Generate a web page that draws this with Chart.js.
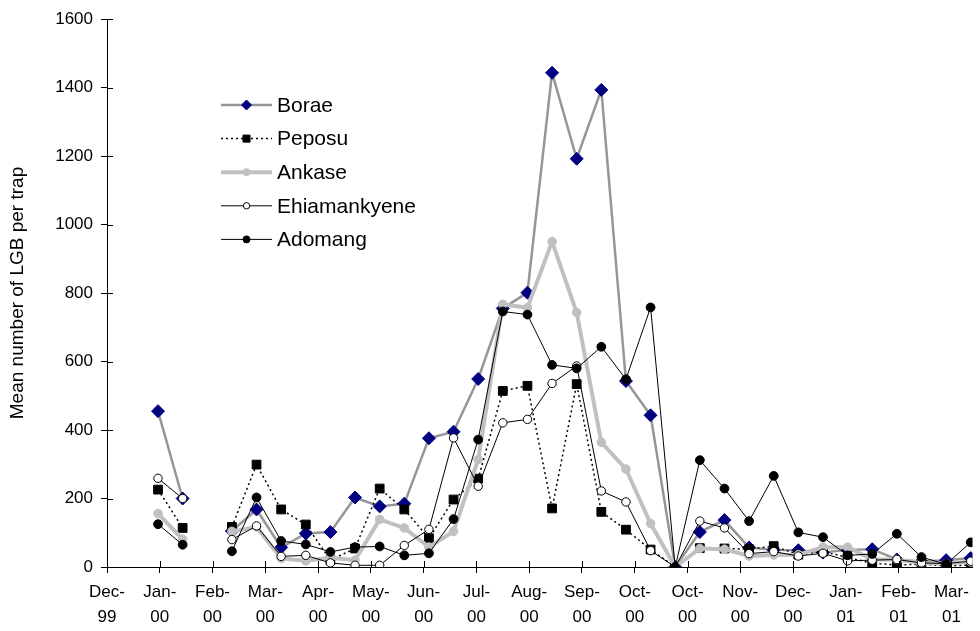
<!DOCTYPE html>
<html>
<head>
<meta charset="utf-8">
<script src="https://cdn.jsdelivr.net/npm/chart.js@4/dist/chart.umd.min.js"></script>
<style>
  html, body { margin: 0; padding: 0; background: #ffffff; }
  #wrap { width: 980px; height: 631px; }
</style>
</head>
<body>
<div id="wrap"><canvas id="c" width="980" height="631"></canvas></div>
<script>
// Fortnightly trap sampling dates
const sampleDates = [
  '2000-01-04','2000-01-18','2000-02-01','2000-02-15','2000-02-29','2000-03-14',
  '2000-03-28','2000-04-11','2000-04-25','2000-05-09','2000-05-23','2000-06-06',
  '2000-06-20','2000-07-04','2000-07-18','2000-08-01','2000-08-15','2000-08-29',
  '2000-09-12','2000-09-26','2000-10-10','2000-10-24','2000-11-07','2000-11-21',
  '2000-12-05','2000-12-19','2001-01-02','2001-01-16','2001-01-30','2001-02-13',
  '2001-02-27','2001-03-13','2001-03-27','2001-04-10'
];

// Mean number of LGB per trap at each site (null = no sample)
const borae = [455,200,null,105,168,57,98,102,203,177,185,376,395,549,755,801,1443,1192,1393,543,443,0,102,137,57,50,49,42,50,52,22,16,20,26];
const peposu = [226,114,null,117,299,168,124,20,54,229,168,84,197,258,514,529,171,534,161,109,51,0,55,54,52,61,36,45,28,11,6,8,3,6];
const ankase = [156,81,null,104,117,25,18,27,20,139,114,58,104,314,767,757,950,743,364,286,127,0,54,52,32,35,36,58,58,22,22,12,10,15];
const ehiamankyene = [259,200,null,80,120,31,34,12,5,5,63,110,377,236,421,431,536,587,222,190,48,0,134,114,39,45,32,40,18,20,22,12,10,17];
const adomang = [125,65,null,46,203,76,66,44,58,60,34,40,140,372,746,737,590,580,643,548,758,0,312,229,134,266,101,87,34,38,97,29,8,72];

// Date-axis tick labels (one tick every 30 days from the axis start)
const tickLabels = [
  ['Dec-','99'],['Jan-','00'],['Feb-','00'],['Mar-','00'],['Apr-','00'],['May-','00'],
  ['Jun-','00'],['Jul-','00'],['Aug-','00'],['Sep-','00'],['Oct-','00'],['Oct-','00'],
  ['Nov-','00'],['Dec-','00'],['Jan-','01'],['Feb-','01'],['Mar-','01']
];
const axisStart = '1999-12-06';
const axisEnd = '2001-04-11';
const tickStepDays = 30;

const seriesNames = ['Borae','Peposu','Ankase','Ehiamankyene','Adomang'];

const DAY = 86400000;
const dayOf = s => (Date.parse(s + 'T00:00:00Z') - Date.parse(axisStart + 'T00:00:00Z')) / DAY;
const toPoints = vals => vals.map((v, i) => ({ x: dayOf(sampleDates[i]), y: v }));

const FONT = "'Liberation Sans', Arial, Helvetica, sans-serif";

const datasets = [
  { label: seriesNames[0], data: toPoints(borae), borderColor: '#969696', borderWidth: 2.5,
    pointStyle: 'rectRot', pointRadius: 6.5, pointBackgroundColor: '#000080', pointBorderColor: '#000080',
    pointBorderWidth: 1, order: 4, legendRadius: 5 },
  { label: seriesNames[1], data: toPoints(peposu), borderColor: '#000000', borderWidth: 1.5, borderDash: [2, 3],
    pointStyle: 'rect', pointRadius: 6.2, pointBackgroundColor: '#000000', pointBorderColor: '#000000',
    pointBorderWidth: 1, order: 3, legendRadius: 5 },
  { label: seriesNames[2], data: toPoints(ankase), borderColor: '#c0c0c0', borderWidth: 4,
    pointStyle: 'circle', pointRadius: 4.3, pointBackgroundColor: '#c0c0c0', pointBorderColor: '#c0c0c0',
    pointBorderWidth: 1, order: 2, legendRadius: 3.5 },
  { label: seriesNames[3], data: toPoints(ehiamankyene), borderColor: '#000000', borderWidth: 1,
    pointStyle: 'circle', pointRadius: 4.2, pointBackgroundColor: '#ffffff', pointBorderColor: '#000000',
    pointBorderWidth: 1, order: 1, legendRadius: 3.2 },
  { label: seriesNames[4], data: toPoints(adomang), borderColor: '#000000', borderWidth: 1,
    pointStyle: 'circle', pointRadius: 4.4, pointBackgroundColor: '#000000', pointBorderColor: '#000000',
    pointBorderWidth: 1, order: 0, legendRadius: 3.5 }
];
datasets.forEach(d => { d.tension = 0; d.spanGaps = false; d.pointHoverRadius = d.pointRadius; });

function drawMarker(ctx, style, x, y, r, fill, stroke) {
  ctx.save();
  ctx.fillStyle = fill;
  ctx.strokeStyle = stroke;
  ctx.lineWidth = 1;
  ctx.setLineDash([]);
  ctx.beginPath();
  if (style === 'rectRot') {
    ctx.moveTo(x, y - r); ctx.lineTo(x + r, y); ctx.lineTo(x, y + r); ctx.lineTo(x - r, y); ctx.closePath();
  } else if (style === 'rect') {
    const h = r * Math.SQRT1_2;
    ctx.rect(x - h, y - h, 2 * h, 2 * h);
  } else {
    ctx.arc(x, y, r, 0, Math.PI * 2);
  }
  ctx.fill();
  ctx.stroke();
  ctx.restore();
}

// Legend drawn inside the plot area, in series order
const insideLegend = {
  id: 'insideLegend',
  afterDraw(chart) {
    const ctx = chart.ctx;
    const x0 = 221, x1 = 272, tx = 277, y0 = 105, step = 33.6;
    chart.data.datasets.forEach((d, i) => {
      const y = y0 + i * step;
      ctx.save();
      ctx.strokeStyle = d.borderColor;
      ctx.lineWidth = d.borderWidth;
      ctx.setLineDash(d.borderDash || []);
      ctx.beginPath();
      ctx.moveTo(x0, y); ctx.lineTo(x1, y);
      ctx.stroke();
      ctx.restore();
      drawMarker(ctx, d.pointStyle, (x0 + x1) / 2, y, d.legendRadius, d.pointBackgroundColor, d.pointBorderColor);
      ctx.save();
      ctx.fillStyle = '#000';
      ctx.font = '21px ' + FONT;
      ctx.textBaseline = 'middle';
      ctx.textAlign = 'left';
      ctx.fillText(d.label, tx, y + 1);
      ctx.restore();
    });
  }
};

// Tick marks that cross the axis lines (inner half)
const crossTicks = {
  id: 'crossTicks',
  afterDraw(chart) {
    const ctx = chart.ctx;
    const { left, bottom } = chart.chartArea;
    const xs = chart.scales.x, ys = chart.scales.y;
    ctx.save();
    ctx.strokeStyle = '#000';
    ctx.lineWidth = 1;
    ctx.beginPath();
    xs.ticks.forEach(t => {
      const px = Math.round(xs.getPixelForValue(t.value)) + 0.5;
      ctx.moveTo(px, bottom); ctx.lineTo(px, bottom - 6);
    });
    ys.ticks.forEach(t => {
      const py = Math.round(ys.getPixelForValue(t.value)) + 0.5;
      ctx.moveTo(left, py); ctx.lineTo(left + 6, py);
    });
    ctx.stroke();
    ctx.restore();
  }
};

new Chart(document.getElementById('c'), {
  type: 'line',
  data: { datasets },
  options: {
    responsive: false,
    animation: false,
    events: [],
    layout: { padding: { top: 19, right: 5, left: 0, bottom: 0 } },
    plugins: { legend: { display: false }, tooltip: { enabled: false } },
    scales: {
      x: {
        type: 'linear',
        min: 0,
        max: dayOf(axisEnd),
        afterBuildTicks: s => { s.ticks = tickLabels.map((_, i) => ({ value: i * tickStepDays })); },
        afterFit: s => { s.height = 64; },
        ticks: {
          autoSkip: false, maxRotation: 0, minRotation: 0, padding: 7,
          color: '#000', font: { family: FONT, size: 17, lineHeight: 1.45 },
          callback: (v, i) => tickLabels[i]
        },
        grid: { drawOnChartArea: false, color: '#000', tickColor: '#000', tickLength: 6, lineWidth: 1 },
        border: { display: true, color: '#000', width: 1 }
      },
      y: {
        min: 0,
        max: 1600,
        afterFit: s => { s.width = 107; },
        ticks: {
          stepSize: 200, padding: 8, color: '#000',
          font: { family: FONT, size: 17 },
          callback: v => String(v)
        },
        grid: { drawOnChartArea: false, color: '#000', tickColor: '#000', tickLength: 6, lineWidth: 1 },
        border: { display: true, color: '#000', width: 1 },
        title: {
          display: true, text: 'Mean number of LGB per trap', color: '#000',
          font: { family: FONT, size: 19, lineHeight: 1.2 }, padding: { top: 6, bottom: 0 }
        }
      }
    }
  },
  plugins: [crossTicks, insideLegend]
});
</script>
</body>
</html>
